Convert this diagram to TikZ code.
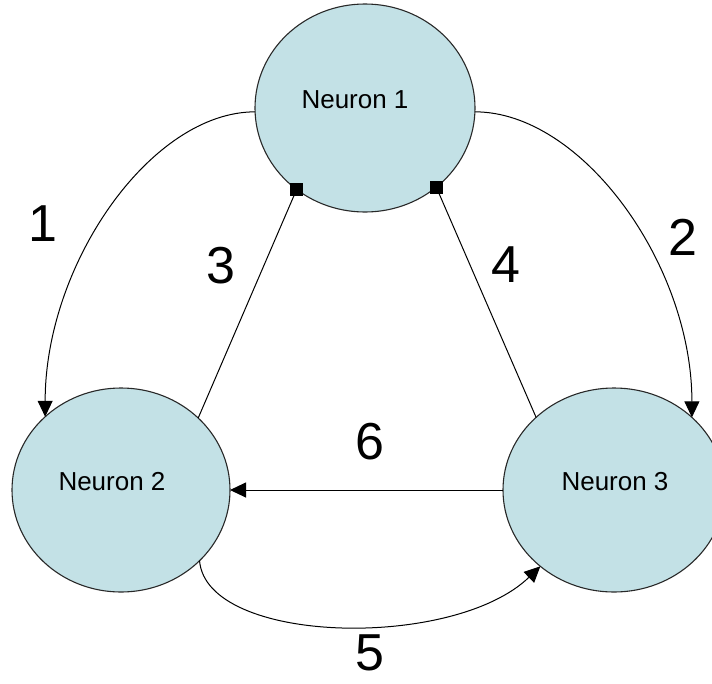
\documentclass[tikz,border=0pt]{standalone}
\usepackage{fontspec}
\setmainfont{Liberation Sans}
\usetikzlibrary{shapes.geometric,arrows.meta}
\definecolor{nfill}{RGB}{195,225,230}
\definecolor{nline}{RGB}{40,40,40}
\begin{document}
\begin{tikzpicture}[x=1pt,y=-1pt,
  neuron/.style={ellipse, draw=nline, line width=1.1pt, fill=nfill, inner sep=0pt, outer sep=0pt},
  ntext/.style={font=\fontsize{26}{26}\selectfont, inner sep=0pt},
  num/.style={font=\fontsize{52}{52}\selectfont, inner sep=0pt},
  conn/.style={draw=black, line width=1pt},
  arr/.style={conn, -{Triangle[length=16pt,width=15pt]}},
  sqtip/.style={fill=black}]
\useasboundingbox (0,0) rectangle (712,683);
% neurons
\node[neuron, minimum width=220pt, minimum height=208pt] (n1) at (365,108) {};
\node[neuron, minimum width=218pt, minimum height=204pt] (n2) at (121,490) {};
\node[neuron, minimum width=222pt, minimum height=204pt] (n3) at (614,490) {};
\node[ntext] (t1) at (355,100) {Neuron 1};
\node[ntext] (t2) at (112,482) {Neuron 2};
\node[ntext] (t3) at (615,482) {Neuron 3};
% connectors
\draw[arr] (n1.182) .. controls +(-104,0) and +(0,-153) .. (n2.136);
\draw[arr] (n1.-2) .. controls +(107,0) and +(0,-153) .. (n3.43);
\draw[conn] (n2.43) -- (n1.230);
\draw[conn] (n3.137) -- (n1.312);
\fill[sqtip] ([shift={(-6.5,-6.5)}]n1.230) rectangle +(13,13);
\fill[sqtip] ([shift={(-6.5,-6.5)}]n1.312) rectangle +(13,13);
\draw[arr] (n3.180) -- (n2.0);
\draw[arr] (n2.-42) .. controls +(7,84) and +(-87,84) .. (n3.226);
% labels
\node[num] (l1) at (43,224) {1};
\node[num] (l2) at (683,237) {2};
\node[num] (l3) at (221,266) {3};
\node[num] (l4) at (506,265) {4};
\node[num] (l5) at (370,653) {5};
\node[num] (l6) at (370,442) {6};
\end{tikzpicture}
\end{document}
